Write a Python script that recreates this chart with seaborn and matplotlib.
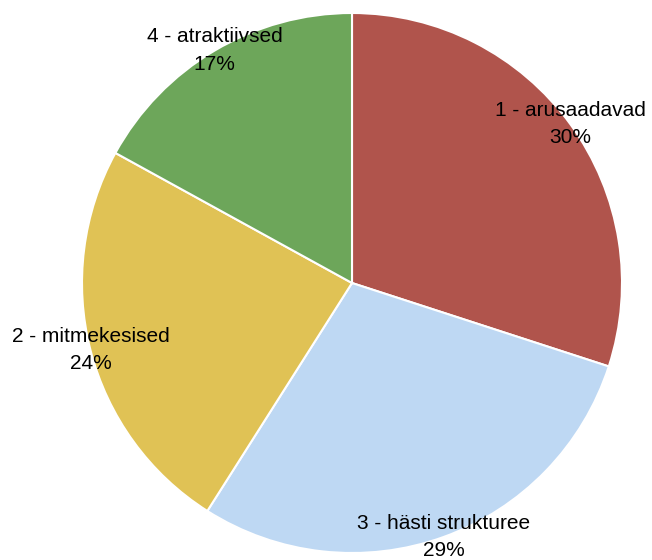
import matplotlib
matplotlib.use("Agg")
import matplotlib.pyplot as plt
import seaborn as sns

categories = ["1 - arusaadavad", "3 - hästi strukturee", "2 - mitmekesised", "4 - atraktiivsed"]
values = [30, 29, 24, 17]
colors = ["#B0544C", "#BED8F3", "#E0C255", "#6DA65A"]

sns.set_theme(style="white")
plt.rcParams['font.family'] = ['Liberation Sans', 'DejaVu Sans']

fig = plt.figure(figsize=(6.52, 5.6), dpi=100)
cx, cy, r = 352, 283, 270
ax = fig.add_axes([(cx - r) / 652, (560 - cy - r) / 560, 2 * r / 652, 2 * r / 560])

labels = [f"{c}\n{v}%" for c, v in zip(categories, values)]
wedges, texts = ax.pie(values, colors=colors, startangle=90, counterclock=False,
                       labels=labels, labeldistance=1.0,
                       wedgeprops=dict(edgecolor="white", linewidth=1.5),
                       textprops=dict(fontsize=15, color="black", linespacing=1.55))
for t in texts:
    t.set_ha("center")
    t.set_va("center")
    t.set_multialignment("center")
ax.set_xlim(-1, 1)
ax.set_ylim(-1, 1)
ax.set_aspect("equal")
fig.savefig("out.png", dpi=100)
